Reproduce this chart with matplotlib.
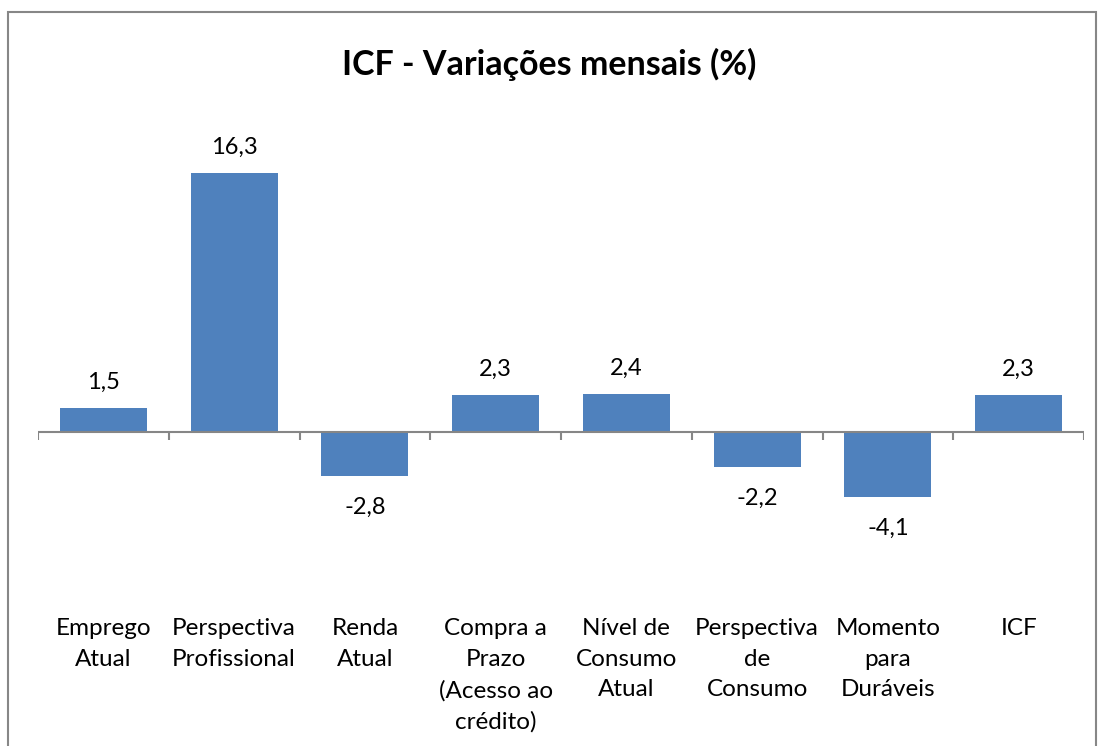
import matplotlib
matplotlib.use("Agg")
import matplotlib.pyplot as plt
from matplotlib.patches import Rectangle
import numpy as np

categories = ["Emprego\nAtual", "Perspectiva\nProfissional", "Renda\nAtual",
              "Compra a\nPrazo\n(Acesso ao\ncrédito)", "Nível de\nConsumo\nAtual",
              "Perspectiva\nde\nConsumo", "Momento\npara\nDuráveis", "ICF"]
values = [1.5, 16.3, -2.8, 2.3, 2.4, -2.2, -4.1, 2.3]
value_labels = ["1,5", "16,3", "-2,8", "2,3", "2,4", "-2,2", "-4,1", "2,3"]

plt.rcParams['font.family'] = ['Lato', 'DejaVu Sans']

W, H = 1099, 746
fig = plt.figure(figsize=(W / 100, H / 100), dpi=100)

# outer chart border (bottom edge falls outside the picture)
fig.patches.append(Rectangle((8 / W, -0.05), (1096 - 8) / W, 1.05 - 12 / H,
                             transform=fig.transFigure, fill=False,
                             edgecolor="#878787", linewidth=1.5))

# plot area: x from 38 to 1084 px, zero at y=432, 15.87 px per unit
ppu = 15.87
ymin, ymax = -8, 20
top = 432 - ymax * ppu
bottom = 432 - ymin * ppu
ax = fig.add_axes([38 / W, 1 - bottom / H, (1084 - 38) / W, (bottom - top) / H])

x = np.arange(len(values))
ax.bar(x, values, width=0.665, color="#4F81BD", zorder=2)
ax.set_xlim(-0.5, len(values) - 0.5)
ax.set_ylim(ymin, ymax)
ax.axis("off")

# zero axis line and tick marks between categories
ax.axhline(0, color="#868686", linewidth=1.5, zorder=3)
tick_len = 8 / ppu
for b in np.arange(-0.5, len(values), 1.0):
    ax.plot([b, b], [0, -tick_len], color="#868686", linewidth=1.5, zorder=3,
            solid_capstyle="butt")

for xi, v, lab in zip(x, values, value_labels):
    off = 26 / ppu if v >= 0 else -31 / ppu
    ax.text(xi, v + off, lab, ha="center", va="center", fontsize=17)

slot = (1084 - 38) / len(values)
for xi, cat in zip(x, categories):
    fig.text((38 + (xi + 0.5) * slot) / W, 1 - 618 / H, cat,
             ha="center", va="top", fontsize=17.5, linespacing=1.57)

fig.text(0.5, 1 - 64 / H, "ICF - Variações mensais (%)", ha="center", va="center",
         fontsize=24.5, fontweight="bold")

fig.savefig("out.png", dpi=100)
